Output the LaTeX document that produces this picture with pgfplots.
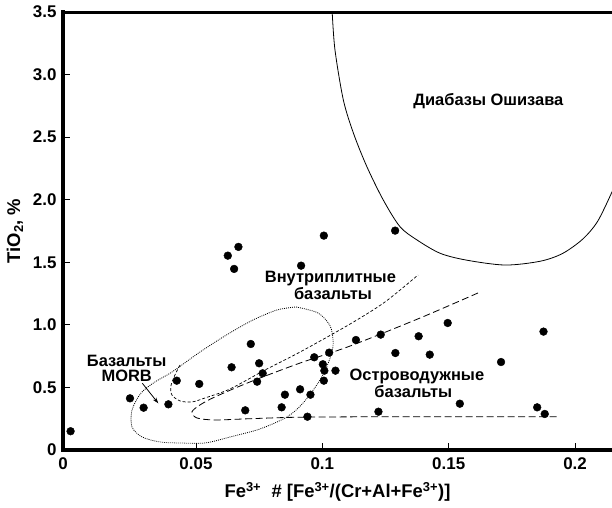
\documentclass[border=0pt]{standalone}
\usepackage{fontspec}
\setmainfont{Liberation Sans}
\usepackage{pgfplots}
\pgfplotsset{compat=1.18}
\usetikzlibrary{arrows.meta}

\begin{document}
\begin{tikzpicture}
\begin{axis}[
  scale only axis, width=549bp, height=438bp,
  xmin=-0.0026, xmax=0.2146, ymin=0, ymax=3.5,
  axis lines*=left,
  axis line style={-, line width=4bp, line cap=rect},
  xtick={-0.0026,0.05,0.1,0.15,0.2},
  xticklabels={0,0.05,0.1,0.15,0.2},
  ytick={0,0.5,1,1.5,2,2.5,3,3.5},
  yticklabels={0,0.5,1.0,1.5,2.0,2.5,3.0,3.5},
  tick align=inside,
  major tick length=7bp,
  tick style={line width=0.8bp, black},
  ticklabel style={font=\fontsize{17}{19}\selectfont\bfseries},
  xticklabel shift=4bp,
  yticklabel shift=3bp,
  xlabel={Fe\textsuperscript{3+}\ \ \# [Fe\textsuperscript{3+}/(Cr+Al+Fe\textsuperscript{3+})]},
  ylabel={TiO\textsubscript{2}, \%},
  label style={font=\fontsize{18.5}{20}\selectfont\bfseries},
  xlabel style={at={(axis description cs:0.5,-0.096)}, anchor=center},
  ylabel style={at={(axis description cs:-0.0874,0.5)}, anchor=center},
]
% samples
\addplot[only marks, mark=*, mark size=3.9bp, black] coordinates {
  (0.0004,0.150) (0.0239,0.413) (0.0293,0.338) (0.0391,0.365)
  (0.0424,0.554) (0.0513,0.528) (0.0641,0.661) (0.0717,0.847)
  (0.0750,0.693) (0.0764,0.613) (0.0742,0.546) (0.0695,0.317)
  (0.0839,0.341) (0.0852,0.442) (0.0912,0.485) (0.0953,0.442)
  (0.0941,0.266) (0.0968,0.741) (0.1027,0.778) (0.1002,0.685)
  (0.1008,0.634) (0.1052,0.634) (0.1006,0.554) (0.1133,0.879)
  (0.1231,0.922) (0.1381,0.909) (0.1496,1.015) (0.1289,0.775)
  (0.1425,0.762) (0.1222,0.306) (0.1544,0.370) (0.1875,0.946)
  (0.1707,0.703) (0.1850,0.341) (0.1880,0.288) (0.0668,1.623)
  (0.0626,1.553) (0.0651,1.447) (0.0916,1.473) (0.1006,1.713)
  (0.1288,1.753)
};
% Oshizawa diabase field
\addplot[smooth, line width=0.8bp, black] coordinates {
  (0.1039,3.5) (0.1050,3.197) (0.1083,2.798) (0.1123,2.532)
  (0.1176,2.265) (0.1241,1.998) (0.1307,1.785) (0.1374,1.679)
  (0.1466,1.572) (0.1571,1.517) (0.1723,1.478) (0.1861,1.508)
  (0.1950,1.570) (0.2030,1.685) (0.2090,1.830) (0.2150,2.080)
};
% MORB field
\addplot[smooth, line width=0.8bp, black, dash pattern=on 0.9bp off 1.1bp] coordinates {
  (0.0896,1.143) (0.0983,1.095) (0.1031,0.991) (0.1043,0.855)
  (0.1031,0.735) (0.0991,0.560) (0.0924,0.376) (0.0860,0.264)
  (0.0753,0.168) (0.0635,0.104) (0.0536,0.056) (0.0437,0.056)
  (0.0358,0.064) (0.0287,0.104) (0.0247,0.184) (0.0247,0.320)
  (0.0283,0.456) (0.0338,0.544) (0.0405,0.623) (0.0516,0.783)
  (0.0627,0.927) (0.0726,1.039) (0.0821,1.119) (0.0896,1.143)
};
% intraplate basalts
\addplot[smooth, line width=0.7bp, black, dash pattern=on 3bp off 2bp] coordinates {
  (0.0437,0.679) (0.0417,0.600) (0.0401,0.512) (0.0405,0.440)
  (0.0437,0.392) (0.0484,0.384) (0.0536,0.416) (0.0635,0.488)
  (0.0773,0.639) (0.0912,0.783) (0.1110,1.007) (0.1248,1.183)
  (0.1379,1.399)
};
% island-arc basalts
\addplot[smooth, line width=0.8bp, black, dash pattern=on 7bp off 3.5bp] coordinates {
  (0.1616,1.255) (0.1387,1.055) (0.1110,0.831) (0.0912,0.695)
  (0.0714,0.544) (0.0575,0.424) (0.0516,0.360) (0.0484,0.304)
  (0.0504,0.256) (0.0575,0.240) (0.0714,0.250) (0.0912,0.262)
  (0.1308,0.266) (0.1933,0.266)
};
\draw[-{Stealth[length=6bp,width=4bp]}, line width=0.8bp] (axis cs:0.0288,0.533) -- (axis cs:0.0351,0.373);
\begin{scope}[every node/.style={font=\fontsize{16.5}{18}\selectfont\bfseries, anchor=base, inner sep=0pt}]
\node at (axis cs:0.1657,2.75) {Диабазы Ошизава};
\node at (axis cs:0.1032,1.335) {Внутриплитные};
\node at (axis cs:0.1042,1.199) {базальты};
\node at (axis cs:0.0226,0.666) {Базальты};
\node at (axis cs:0.0226,0.544) {MORB};
\node at (axis cs:0.1374,0.552) {Островодужные};
\node at (axis cs:0.1360,0.416) {базальты};
\end{scope}
\draw[line width=4bp, line cap=rect] (rel axis cs:0,1) -- (rel axis cs:1,1);
\end{axis}
\pgfresetboundingbox
\path[use as bounding box] (-63bp,-58bp) rectangle (549bp,450bp);
\end{tikzpicture}
\end{document}
